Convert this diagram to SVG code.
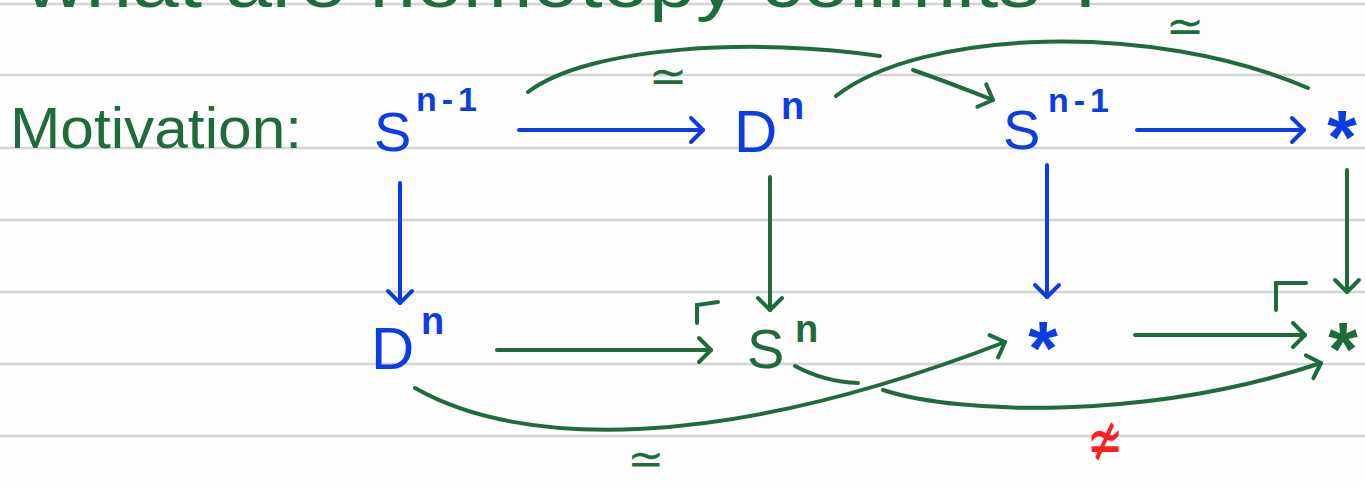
<svg xmlns="http://www.w3.org/2000/svg" width="1365" height="486" viewBox="0 0 1365 486">
<style>
.rule{stroke:#d4d4d4;stroke-width:2.5}
.t{font-family:"Liberation Sans",Arial,sans-serif}
.sup{font-weight:bold}
.ast{font-weight:bold}
.g{fill:#1e6b3c}
.b{fill:#0b3de6}
.r{fill:#ff1f1f}
.sym{font-family:"DejaVu Sans",sans-serif}
.cg{fill:none;stroke:#1e6b3c;stroke-width:4;stroke-linecap:round}
.cb{fill:none;stroke:#0b3de6;stroke-width:4;stroke-linecap:round}
</style>
<defs>
<marker id="hg" markerUnits="userSpaceOnUse" viewBox="-16 -15 20 30" markerWidth="20" markerHeight="30" refX="0" refY="0" orient="auto">
<path d="M-12,-12 L0,0 L-12,12" fill="none" stroke="#1e6b3c" stroke-width="4" stroke-linecap="round" stroke-linejoin="round"/>
</marker>
<marker id="hb" markerUnits="userSpaceOnUse" viewBox="-16 -15 20 30" markerWidth="20" markerHeight="30" refX="0" refY="0" orient="auto">
<path d="M-12,-12 L0,0 L-12,12" fill="none" stroke="#0b3de6" stroke-width="4" stroke-linecap="round" stroke-linejoin="round"/>
</marker>
</defs>
<rect width="1365" height="486" fill="#fdfdfd"/>
<g id="rules">
<line class="rule" x1="0" y1="4" x2="1365" y2="4"/>
<line class="rule" x1="0" y1="75" x2="1365" y2="75"/>
<line class="rule" x1="0" y1="148" x2="1365" y2="148"/>
<line class="rule" x1="0" y1="220" x2="1365" y2="220"/>
<line class="rule" x1="0" y1="292" x2="1365" y2="292"/>
<line class="rule" x1="0" y1="364" x2="1365" y2="364"/>
<line class="rule" x1="0" y1="436" x2="1365" y2="436"/>
</g>
<g id="title">
<text class="t g" x="25" y="7" font-size="72" textLength="1085" lengthAdjust="spacingAndGlyphs">what are homotopy colimits ?</text>
</g>
<g id="motivation">
<text class="t g" x="10" y="148" font-size="58" textLength="292" lengthAdjust="spacingAndGlyphs">Motivation:</text>
</g>
<g id="connectors">
<line class="cb" x1="519" y1="130" x2="703" y2="130" marker-end="url(#hb)"/>
<line class="cb" x1="1137" y1="130" x2="1304" y2="130" marker-end="url(#hb)"/>
<line class="cb" x1="400" y1="183" x2="400" y2="303" marker-end="url(#hb)"/>
<line class="cg" x1="770" y1="177" x2="770" y2="310" marker-end="url(#hg)"/>
<line class="cb" x1="1047" y1="165" x2="1047" y2="297" marker-end="url(#hb)"/>
<line class="cg" x1="1347" y1="170" x2="1347" y2="292" marker-end="url(#hg)"/>
<line class="cg" x1="497" y1="350" x2="711" y2="350" marker-end="url(#hg)"/>
<line class="cg" x1="1135" y1="335" x2="1305" y2="335" marker-end="url(#hg)"/>
<path class="cg" d="M697,323 L697,305 L718,302"/>
<path class="cg" d="M1276,310 L1276,283 L1306,283"/>
<path class="cg" d="M528,92 C590,45 760,38 880,56"/>
<path class="cg" d="M913,70 Q950,83 993,100" marker-end="url(#hg)"/>
<path class="cg" d="M836,96 C920,30 1150,20 1308,88"/>
<path class="cg" d="M415,388 C520,448 720,452 1005,342" marker-end="url(#hg)"/>
<path class="cg" d="M795,366 Q825,382 858,383"/>
<path class="cg" d="M883,390 C960,415 1150,420 1321,363" marker-end="url(#hg)"/>
<text class="sym g" x="668" y="92" font-size="46" text-anchor="middle">≃</text>
<text class="sym g" x="1185" y="42" font-size="46" text-anchor="middle">≃</text>
<text class="sym g" x="646" y="474" font-size="44" text-anchor="middle">≃</text>
<text class="sym r" transform="translate(1105,464) scale(0.9,1.45)" x="0" y="0" font-size="48" text-anchor="middle">≄</text>
</g>
<g id="node-s1">
<text class="t b" x="374" y="151" font-size="56">S</text>
<text class="t b sup" x="416" y="111" font-size="34" letter-spacing="5">n-1</text>
</g>
<g id="node-d1">
<text class="t b" x="734" y="152" font-size="60">D</text>
<text class="t b sup" x="781" y="119" font-size="38">n</text>
</g>
<g id="node-s2">
<text class="t b" x="1003" y="149" font-size="56">S</text>
<text class="t b sup" x="1048" y="112" font-size="34" letter-spacing="5">n-1</text>
</g>
<g id="node-p1">
<text class="t b ast" x="1342" y="163" font-size="76" text-anchor="middle">*</text>
</g>
<g id="node-d2">
<text class="t b" x="371" y="369" font-size="60">D</text>
<text class="t b sup" x="421" y="334" font-size="38">n</text>
</g>
<g id="node-sn">
<text class="t g" x="747" y="368" font-size="56">S</text>
<text class="t g sup" x="795" y="342" font-size="38">n</text>
</g>
<g id="node-p2">
<text class="t b ast" x="1043" y="374" font-size="76" text-anchor="middle">*</text>
</g>
<g id="node-p3">
<text class="t g ast" x="1343" y="375" font-size="76" text-anchor="middle">*</text>
</g>
</svg>
